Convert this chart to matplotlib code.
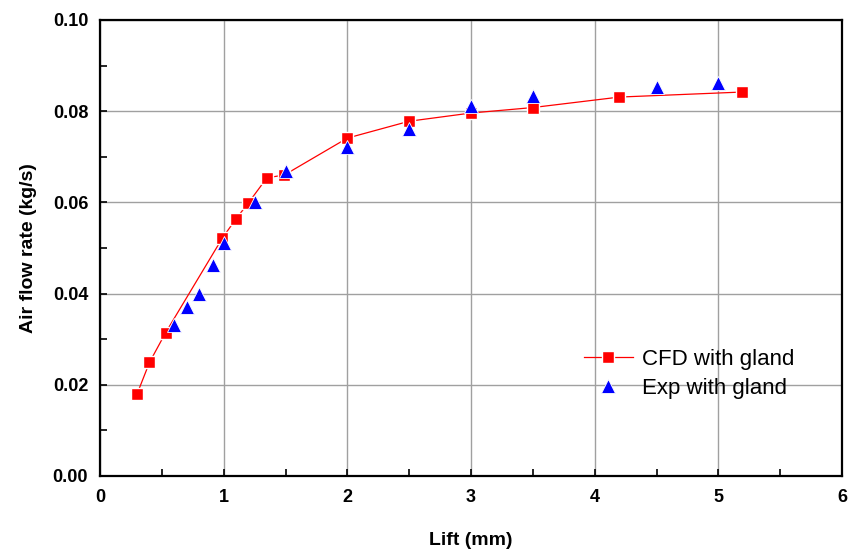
import matplotlib
matplotlib.use("Agg")
import matplotlib.pyplot as plt
from matplotlib.ticker import MultipleLocator

plt.rcParams['font.family'] = ['Liberation Sans', 'DejaVu Sans']

# CFD with gland
cfd_lift = [0.30, 0.40, 0.53, 0.99, 1.10, 1.20, 1.35, 1.49, 2.00, 2.50, 3.00, 3.50, 4.20, 5.19]
cfd_flow = [0.0180, 0.0249, 0.0314, 0.0522, 0.0564, 0.0599, 0.0654, 0.0660,
            0.0741, 0.0778, 0.0796, 0.0808, 0.0831, 0.0842]

# Exp with gland
exp_lift = [0.60, 0.70, 0.80, 0.91, 1.00, 1.25, 1.50, 2.00, 2.50, 3.00, 3.50, 4.50, 5.00]
exp_flow = [0.0331, 0.0371, 0.0400, 0.0462, 0.0511, 0.0600, 0.0669,
            0.0721, 0.0761, 0.0812, 0.0833, 0.0854, 0.0862]

fig = plt.figure(figsize=(8.51, 5.52), dpi=100)
ax = fig.add_axes([100/851, (552-476)/552, 742/851, 456/552])

ax.plot(cfd_lift, cfd_flow, color='red', lw=0.9, marker='s', ms=8.5,
        mfc='red', mec='white', mew=1.0, label='CFD with gland', zorder=3)
ax.plot(exp_lift, exp_flow, ls='none', marker='^', ms=10.5,
        mfc='blue', mec='white', mew=0.6, label='Exp with gland', zorder=4)

ax.set_xlim(0, 6)
ax.set_ylim(0, 0.10)
ax.xaxis.set_major_locator(MultipleLocator(1))
ax.xaxis.set_minor_locator(MultipleLocator(0.5))
ax.yaxis.set_major_locator(MultipleLocator(0.02))
ax.yaxis.set_minor_locator(MultipleLocator(0.01))
ax.yaxis.set_major_formatter(matplotlib.ticker.FormatStrFormatter('%.2f'))

ax.grid(True, which='major', color='#a0a0a0', lw=1.0)
ax.set_axisbelow(True)
ax.tick_params(which='both', direction='in', length=5, width=1.2,
               top=False, right=False, labelsize=13)
ax.tick_params(axis='x', pad=9.5)
ax.tick_params(axis='y', pad=8.5)
for lab in ax.get_xticklabels() + ax.get_yticklabels():
    lab.set_fontweight('bold')
for sp in ax.spines.values():
    sp.set_linewidth(1.6)

ax.set_xlabel('Lift (mm)', fontsize=14, fontweight='bold', labelpad=18.5)
ax.set_ylabel('Air flow rate (kg/s)', fontsize=14, fontweight='bold', labelpad=11)

leg = ax.legend(loc='lower left', bbox_to_anchor=(0.625, 0.125), frameon=False,
                fontsize=16, handlelength=2.2, handletextpad=0.4, labelspacing=0.35)

fig.savefig('out.png', dpi=100)
